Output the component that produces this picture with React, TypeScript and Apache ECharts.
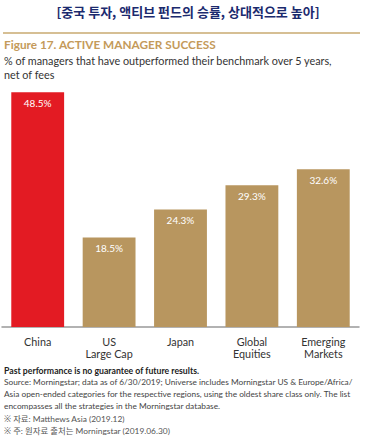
import React, { useEffect, useRef } from "react";
import * as echarts from "echarts";

const categories = ["China", "US\nLarge Cap", "Japan", "Global\nEquities", "Emerging\nMarkets"];
const values = [48.5, 18.5, 24.3, 29.3, 32.6];
const barColors = ["#e31b23", "#b8965f", "#b8965f", "#b8965f", "#b8965f"];

const headline = "[중국 투자, 액티브 펀드의 승률, 상대적으로 높아]";
const figureTitle = "Figure 17. ACTIVE MANAGER SUCCESS";
const subtitleLines = [
  "% of managers that have outperformed their benchmark over 5 years,",
  "net of fees",
];
const disclaimer = "Past performance is no guarantee of future results.";
const sourceLines = [
  "Source: Morningstar; data as of 6/30/2019; Universe includes Morningstar US & Europe/Africa/",
  "Asia open-ended categories for the respective regions, using the oldest share class only. The list",
  "encompasses all the strategies in the Morningstar database.",
];
const koreanNotes = ["※ 자료: Matthews Asia (2019.12)", "※ 주: 원자료 출처는 Morningstar (2019.06.30)"];

const FONT = "Lato, 'Noto Sans', sans-serif";

export default function App() {
  const ref = useRef<HTMLDivElement>(null);
  useEffect(() => {
    if (!ref.current) return;
    const chart = echarts.init(ref.current, undefined, { renderer: "svg" });
    const graphics: any[] = [
      {
        type: "text",
        left: "center",
        top: 5,
        style: {
          text: headline,
          font: "bold 13px 'Noto Sans CJK KR', sans-serif",
          fill: "#1b2a6e",
        },
      },
      {
        type: "line",
        shape: { x1: 3, y1: 33, x2: 360, y2: 33 },
        style: { stroke: "#c9aa70", lineWidth: 1.5 },
      },
      {
        type: "text",
        x: 4,
        y: 38,
        style: { text: figureTitle, font: `bold 11.8px ${FONT}`, fill: "#c49a5a" },
      },
      ...subtitleLines.map((t, i) => ({
        type: "text",
        x: 4,
        y: 55 + i * 14,
        style: { text: t, font: `10.8px ${FONT}`, fill: "#333" },
      })),
      {
        type: "text",
        x: 4,
        y: 366,
        style: { text: disclaimer, font: `bold 8.7px ${FONT}`, fill: "#222" },
      },
      ...sourceLines.map((t, i) => ({
        type: "text",
        x: 4,
        y: 378 + i * 12,
        style: { text: t, font: `8.3px ${FONT}`, fill: "#444" },
      })),
      ...koreanNotes.map((t, i) => ({
        type: "text",
        x: 4,
        y: 415 + i * 12,
        style: { text: t, font: `8.4px ${FONT}, 'Noto Sans CJK KR'`, fill: "#555" },
      })),
    ];
    chart.setOption({
      animation: false,
      grid: { left: 2, right: 17, top: 85, bottom: 110, containLabel: false },
      xAxis: {
        type: "category",
        data: categories,
        axisTick: { show: false },
        axisLine: { lineStyle: { color: "#999", width: 1.5 } },
        axisLabel: {
          color: "#333",
          fontFamily: FONT,
          fontSize: 10.8,
          lineHeight: 12,
          margin: 8,
          interval: 0,
        },
      },
      yAxis: {
        type: "value",
        min: 0,
        max: 50,
        show: false,
        splitLine: { show: false },
      },
      series: [
        {
          type: "bar",
          barCategoryGap: "26%",
          data: values.map((v, i) => ({ value: v, itemStyle: { color: barColors[i] } })),
          label: {
            show: true,
            position: "insideTop",
            distance: 6,
            color: "#fff",
            fontFamily: FONT,
            fontSize: 10,
            formatter: (p: any) => p.value.toFixed(1) + "%",
          },
        },
      ],
      graphic: graphics,
    });
    return () => chart.dispose();
  }, []);
  return (
    <div
      ref={ref}
      style={{ position: "absolute", left: 0, top: 0, width: 376, height: 437, background: "#fff" }}
    />
  );
}
